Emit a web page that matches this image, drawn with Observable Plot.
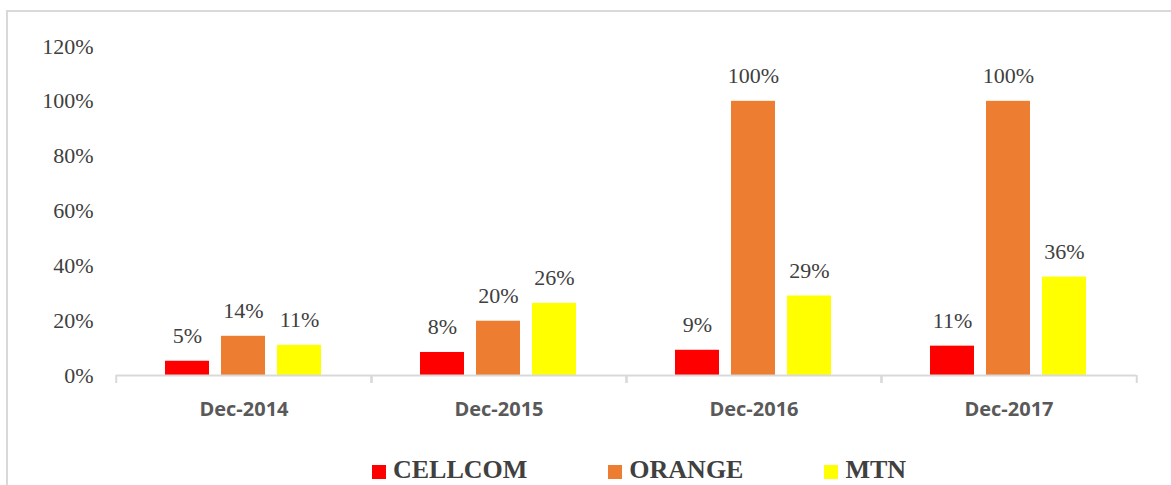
<!DOCTYPE html>
<html><head><meta charset="utf-8">
<script src="https://cdn.jsdelivr.net/npm/d3@7"></script>
<script src="https://cdn.jsdelivr.net/npm/@observablehq/plot@0.6"></script>
<style>
html,body{margin:0;padding:0;background:#fff;overflow:hidden}
#wrap{position:relative;width:1171px;height:485px;overflow:hidden}
#border{position:absolute;left:6px;top:10px;width:2000px;height:1000px;border-top:2px solid #d9d9d9;border-left:2px solid #d9d9d9}
#chart{position:absolute;left:0;top:0}
#legend{position:absolute;left:372px;top:455px;display:flex;align-items:center;font-family:"Liberation Serif","Times New Roman",serif;font-weight:bold;font-size:26px;line-height:30px;color:#404040;white-space:nowrap}
.item{display:flex;align-items:center;margin-right:81px}
.sw{width:14px;height:14px;margin-right:7px;margin-top:4px}
</style>
</head><body>
<div id="wrap"><div id="border"></div><div id="chart"></div><div id="legend"></div></div>
<script>
const periods = ["Dec-2014", "Dec-2015", "Dec-2016", "Dec-2017"];
const series = ["CELLCOM", "ORANGE", "MTN"];
const cellcom = [5.2, 8.4, 9.2, 10.7];
const orange = [14.3, 19.8, 100, 100];
const mtn = [11.0, 26.3, 29.0, 35.9];
const yTicks = [0, 20, 40, 60, 80, 100, 120];
const colors = ["#ff0000", "#ed7d31", "#ffff00"];

const seriesValues = [cellcom, orange, mtn];
const rows = [];
periods.forEach((p, i) => series.forEach((s, j) => rows.push({period: p, series: s, value: seriesValues[j][i]})));

const W = 1171, ML = 115, MR = 34;
const bw = (W - ML - MR) / periods.length;
const serif = "Liberation Serif, Times New Roman, serif";

const chart = Plot.plot({
  width: W, height: 440,
  marginLeft: ML, marginRight: MR, marginTop: 46, marginBottom: 65,
  style: {background: "transparent"},
  fx: {domain: periods, padding: 0, label: null},
  x: {domain: series, paddingInner: 0.21, paddingOuter: 0.846, axis: null},
  y: {domain: [0, 120], label: null},
  color: {domain: series, range: colors},
  marks: [
    Plot.axisY({ticks: yTicks, tickFormat: d => d + "%", tickSize: 0, tickPadding: 23, fontSize: 22, fontFamily: serif, fill: "#404040", label: null}),
    Plot.axisFx({anchor: "bottom", tickSize: 0, tickPadding: 26, fontSize: 20, fontWeight: "bold", fontFamily: "Open Sans, sans-serif", fill: "#595959", label: null}),
    Plot.axisFx({anchor: "bottom", tickSize: 8, tickFormat: () => "", dx: -bw / 2, stroke: "#d9d9d9", strokeWidth: 2, label: null}),
    Plot.axisFx({anchor: "bottom", tickSize: 8, tickFormat: () => "", dx: bw / 2, stroke: "#d9d9d9", strokeWidth: 2, label: null}),
    Plot.barY(rows, {fx: "period", x: "series", y: "value", fill: "series"}),
    Plot.ruleY([0], {stroke: "#d9d9d9", strokeWidth: 2}),
    Plot.text(rows, {fx: "period", x: "series", y: "value", text: d => Math.round(d.value) + "%", lineAnchor: "bottom", dy: -18, fontSize: 22, fontFamily: serif, fill: "#404040"})
  ]
});
document.getElementById("chart").appendChild(chart);

const legend = document.getElementById("legend");
series.forEach((s, i) => {
  const item = document.createElement("div");
  item.className = "item";
  const sw = document.createElement("div");
  sw.className = "sw";
  sw.style.background = colors[i];
  const t = document.createElement("span");
  t.textContent = s;
  item.appendChild(sw); item.appendChild(t);
  legend.appendChild(item);
});
</script>
</body></html>
